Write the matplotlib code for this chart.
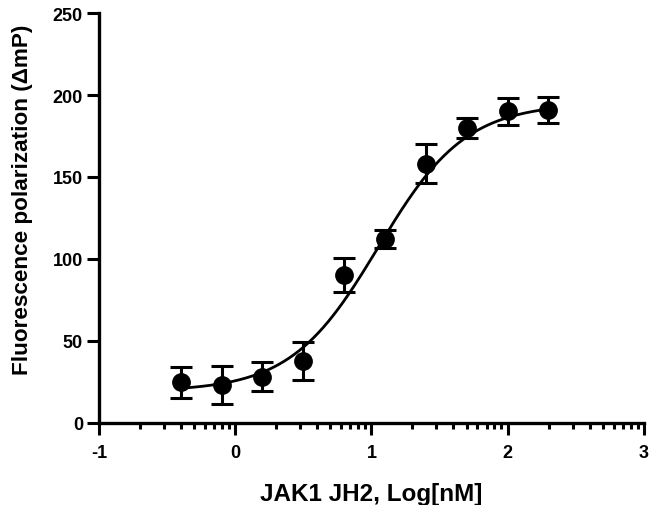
import numpy as np
import matplotlib
matplotlib.use("Agg")
import matplotlib.pyplot as plt
from matplotlib.ticker import FixedLocator

plt.rcParams['font.family'] = ['Liberation Sans', 'DejaVu Sans']
plt.rcParams['font.weight'] = 'bold'
plt.rcParams['axes.unicode_minus'] = False

# Data (log concentration, mean, SD)
log_conc = [-0.4, -0.1, 0.2, 0.5, 0.8, 1.1, 1.4, 1.7, 2.0, 2.3]
fp_mean = [24.5, 23, 28, 37.5, 90, 112, 158, 180, 190, 191]
fp_err = [9.5, 11.5, 9, 11.5, 10.5, 5.5, 12, 6, 8, 8]

# 4PL fit parameters
fit_bottom = 19.0
fit_top = 195.0
fit_logec50 = 1.05
fit_hill = 1.35

x_ticks = [-1, 0, 1, 2, 3]
y_ticks = [0, 50, 100, 150, 200, 250]

fig = plt.figure(figsize=(6.51, 5.06), dpi=100)
ax = fig.add_axes([0.152, 0.163, 0.837, 0.809])

xc = np.linspace(min(log_conc), max(log_conc), 300)
yc = fit_bottom + (fit_top - fit_bottom) / (1 + 10 ** ((fit_logec50 - xc) * fit_hill))
ax.plot(xc, yc, color='black', lw=2.0, zorder=2)

ax.errorbar(log_conc, fp_mean, yerr=fp_err, fmt='o', color='black', ms=12.5,
            elinewidth=2.2, capsize=8, capthick=2.2, zorder=3)

ax.set_xlim(-1, 3)
ax.set_ylim(0, 250)
ax.set_xticks(x_ticks)
ax.set_yticks(y_ticks)
minor = [d + np.log10(k) for d in range(-1, 3) for k in range(2, 10)]
ax.xaxis.set_minor_locator(FixedLocator(minor))

for s in ['top', 'right']:
    ax.spines[s].set_visible(False)
for s in ['left', 'bottom']:
    ax.spines[s].set_linewidth(2.4)

ax.tick_params(axis='both', which='major', length=8.5, width=2.2, labelsize=13, pad=3)
ax.tick_params(axis='x', which='major', pad=7)
ax.tick_params(axis='x', which='minor', length=4.3, width=2.2)

ax.set_xlabel('JAK1 JH2, Log[nM]', fontsize=17.5, fontweight='bold', labelpad=15)
ax.set_ylabel('Fluorescence polarization (ΔmP)', fontsize=16.2, fontweight='bold')
ax.yaxis.set_label_coords(-0.121, 0.546)
for lab in ax.get_xticklabels() + ax.get_yticklabels():
    lab.set_fontweight('bold')

fig.savefig('out.png', dpi=100)
